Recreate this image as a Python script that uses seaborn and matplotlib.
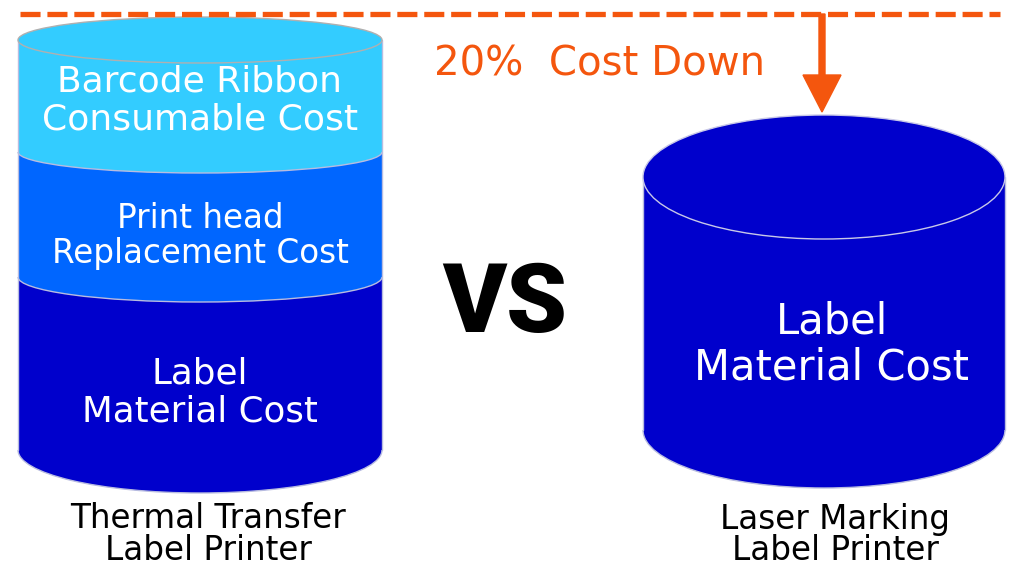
import matplotlib
matplotlib.use("Agg")
import matplotlib.pyplot as plt
from matplotlib.patches import Ellipse, Arc, FancyArrow
import seaborn as sns

# ---------------- data ----------------
left_segments = ["Label\nMaterial Cost", "Print head\nReplacement Cost", "Barcode Ribbon\nConsumable Cost"]
left_heights = [173, 125, 112]          # drawn segment heights (bottom -> top)
right_segments = ["Label\nMaterial Cost"]
right_heights = [253]
printers = ["Thermal Transfer\nLabel Printer", "Laser Marking\nLabel Printer"]
cost_down_label = "20%  Cost Down"
vs_label = "VS"

# ---------------- style ----------------
sns.set_theme(style="white")
plt.rcParams['font.family'] = ['DejaVu Sans']

left_colors = ["#0000CC", "#0066FF", "#33CCFF"]
right_colors = ["#0000CC"]
orange = "#F4560E"

fig = plt.figure(figsize=(10.12, 5.70), dpi=100)
ax = fig.add_axes([0, 0, 1, 1])
ax.set_xlim(0, 1012)
ax.set_ylim(570, 0)
ax.axis("off")


def cylinder(ax, xc, width, base, heights, colors, ry_bounds, top_ry, edge, top_edge):
    x0 = xc - width / 2
    y = base
    for h, c, r in zip(heights, colors, ry_bounds):
        top = y - h
        ax.bar(xc, -h, bottom=y, width=width, color=c, edgecolor="none", zorder=2)
        ax.add_patch(Ellipse((xc, y), width, 2 * r, facecolor=c, edgecolor="none", zorder=2))
        ax.add_patch(Arc((xc, y), width, 2 * r, theta1=0, theta2=180,
                         edgecolor=edge, lw=1.0, zorder=3))
        y = top
    ax.add_patch(Ellipse((xc, y), width, 2 * top_ry, facecolor=colors[-1],
                         edgecolor=top_edge, lw=1.0, zorder=4))
    ax.plot([x0, x0], [base, y], color=edge, lw=1.0, zorder=3)
    ax.plot([x0 + width, x0 + width], [base, y], color=edge, lw=1.0, zorder=3)


cylinder(ax, 200, 364, 450, left_heights, left_colors, [43, 25, 21], 23,
         "#b8bce0", "#b0b0b0")
cylinder(ax, 824, 362, 430, right_heights, right_colors, [58], 62,
         "#b8bce0", "#c8c8e8")

# segment labels (white)
left_text_pos = [(200, 374, 412, 25.7), (200, 219, 254, 23.5), (200, 82, 120, 26)]
for lab, (x, y1, y2, fs) in zip(left_segments, left_text_pos):
    l1, l2 = lab.split("\n")
    ax.text(x, y1, l1, color="white", fontsize=fs, ha="center", va="center", zorder=5)
    ax.text(x, y2, l2, color="white", fontsize=fs, ha="center", va="center", zorder=5)

r1, r2 = right_segments[0].split("\n")
ax.text(832, 321, r1, color="white", fontsize=30, ha="center", va="center", zorder=5)
ax.text(832, 367, r2, color="white", fontsize=30, ha="center", va="center", zorder=5)

# printer labels
for lab, x in zip(printers, [208, 835]):
    l1, l2 = lab.split("\n")
    ax.text(x, 519, l1, color="black", fontsize=23.5, ha="center", va="center")
    ax.text(x, 551, l2, color="black", fontsize=23.5, ha="center", va="center")

# VS
ax.text(505, 306, vs_label, color="black", fontsize=70, ha="center", va="center",
        fontweight=900, family=["Roboto", "DejaVu Sans"])

# dashed reference line
ax.plot([20, 1000], [14, 14], color=orange, lw=3.8, linestyle=(0, (3.8, 1.3)),
        solid_capstyle="butt", dash_capstyle="butt", zorder=6)

# arrow
ax.add_patch(FancyArrow(822, 14, 0, 98, width=6, head_width=38, head_length=37,
                        length_includes_head=True, color=orange, zorder=6))

# cost down label
ax.text(600, 64, cost_down_label, color=orange, fontsize=29, ha="center", va="center")

fig.savefig("out.png", dpi=100)
